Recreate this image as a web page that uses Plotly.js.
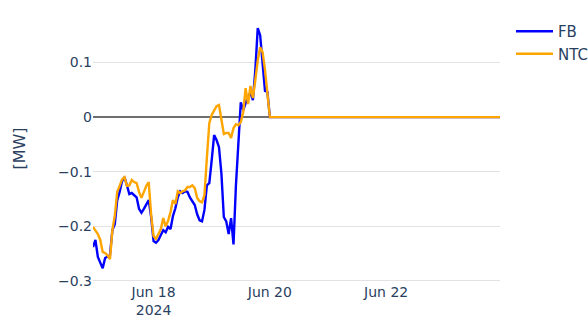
<!DOCTYPE html>
<html>
<head>
<meta charset="utf-8">
<script src="https://cdn.plot.ly/plotly-3.0.1.min.js"></script>
<style>html,body{margin:0;padding:0;background:#fff;}#chart{width:588px;height:326px;}</style>
</head>
<body>
<div id="chart"></div>
<script>
// hourly timestamps (active period) + final point of flat zero segment
const times = [
"2024-06-16 23:00",
"2024-06-17 00:00","2024-06-17 01:00","2024-06-17 02:00","2024-06-17 03:00","2024-06-17 04:00","2024-06-17 05:00",
"2024-06-17 06:00","2024-06-17 07:00","2024-06-17 08:00","2024-06-17 09:00","2024-06-17 10:00","2024-06-17 11:00",
"2024-06-17 12:00","2024-06-17 13:00","2024-06-17 14:00","2024-06-17 15:00","2024-06-17 16:00","2024-06-17 17:00",
"2024-06-17 18:00","2024-06-17 19:00","2024-06-17 20:00","2024-06-17 21:00","2024-06-17 22:00","2024-06-17 23:00",
"2024-06-18 00:00","2024-06-18 01:00","2024-06-18 02:00","2024-06-18 03:00","2024-06-18 04:00","2024-06-18 05:00",
"2024-06-18 06:00","2024-06-18 07:00","2024-06-18 08:00","2024-06-18 09:00","2024-06-18 10:00","2024-06-18 11:00",
"2024-06-18 12:00","2024-06-18 13:00","2024-06-18 14:00","2024-06-18 15:00","2024-06-18 16:00","2024-06-18 17:00",
"2024-06-18 18:00","2024-06-18 19:00","2024-06-18 20:00","2024-06-18 21:00","2024-06-18 22:00","2024-06-18 23:00",
"2024-06-19 00:00","2024-06-19 01:00","2024-06-19 02:00","2024-06-19 03:00","2024-06-19 04:00","2024-06-19 05:00",
"2024-06-19 06:00","2024-06-19 07:00","2024-06-19 08:00","2024-06-19 09:00","2024-06-19 10:00","2024-06-19 11:00",
"2024-06-19 12:00","2024-06-19 13:00","2024-06-19 14:00","2024-06-19 15:00","2024-06-19 16:00","2024-06-19 17:00",
"2024-06-19 18:00","2024-06-19 19:00","2024-06-19 20:00","2024-06-19 21:00","2024-06-19 22:00","2024-06-19 23:00",
"2024-06-20 00:00",
"2024-06-23 23:00"
];

const fbValues = [
-0.238,-0.225,-0.256,-0.266,-0.277,-0.258,-0.255,-0.253,-0.207,-0.196,
-0.152,-0.137,-0.117,-0.110,-0.125,-0.141,-0.139,-0.144,-0.147,-0.168,
-0.175,-0.168,-0.159,-0.152,-0.183,-0.227,-0.230,-0.225,-0.216,-0.207,
-0.211,-0.201,-0.205,-0.181,-0.167,-0.147,-0.136,-0.139,-0.136,-0.137,
-0.147,-0.153,-0.161,-0.178,-0.189,-0.191,-0.170,-0.125,-0.121,-0.079,
-0.033,-0.042,-0.055,-0.103,-0.183,-0.191,-0.214,-0.185,-0.233,-0.125,
-0.042,0.027,0.013,0.026,0.038,0.044,0.031,0.086,0.163,0.150,
0.099,0.048,0.046,0,0
];

const ntcValues = [
-0.201,-0.207,-0.214,-0.225,-0.247,-0.249,-0.253,-0.260,-0.207,-0.181,
-0.137,-0.126,-0.114,-0.110,-0.126,-0.125,-0.115,-0.119,-0.121,-0.137,
-0.148,-0.137,-0.126,-0.119,-0.179,-0.218,-0.223,-0.214,-0.205,-0.185,
-0.200,-0.190,-0.174,-0.152,-0.159,-0.136,-0.139,-0.136,-0.134,-0.128,
-0.128,-0.125,-0.130,-0.148,-0.154,-0.156,-0.143,-0.075,-0.011,0.004,
0.013,0.020,0.022,-0.007,-0.031,-0.029,-0.029,-0.038,-0.020,-0.013,
-0.015,-0.009,0.009,0.053,0.024,0.057,0.035,0.068,0.104,0.128,
0.119,0.086,0.042,0,0
];

const seriesNames = ["FB", "NTC"];
const yTitle = "[MW]";

const traces = [
  {x: times, y: fbValues, name: seriesNames[0], type: "scatter", mode: "lines",
   line: {color: "#0000ff", width: 2.4}},
  {x: times, y: ntcValues, name: seriesNames[1], type: "scatter", mode: "lines",
   line: {color: "#ffa500", width: 2.4}}
];

const layout = {
  width: 588, height: 326,
  margin: {l: 93, r: 88, t: 15, b: 44, autoexpand: false},
  paper_bgcolor: "#ffffff", plot_bgcolor: "#ffffff",
  font: {family: "DejaVu Sans, Verdana, sans-serif", size: 14, color: "#2a3f5f"},
  showlegend: true,
  legend: {x: 1.027, y: 1, xanchor: "left", yanchor: "top", itemwidth: 37,
           font: {size: 15, color: "#2a3f5f"}},
  xaxis: {
    type: "date",
    range: ["2024-06-16 23:00", "2024-06-23 23:00"],
    showgrid: false, zeroline: false, showline: false,
    tick0: "2024-06-18", dtick: 2 * 86400000,
    ticks: ""
  },
  yaxis: {
    range: [-0.302, 0.187],
    dtick: 0.1,
    showgrid: true, gridcolor: "#e2e2e2", gridwidth: 1,
    zeroline: true, zerolinecolor: "#6e6e6e", zerolinewidth: 1.5,
    showline: false, ticks: "",
    title: {text: yTitle, standoff: 28, font: {size: 16, color: "#2a3f5f"}}
  }
};

Plotly.newPlot("chart", traces, layout, {displayModeBar: false, staticPlot: true});
</script>
</body>
</html>
